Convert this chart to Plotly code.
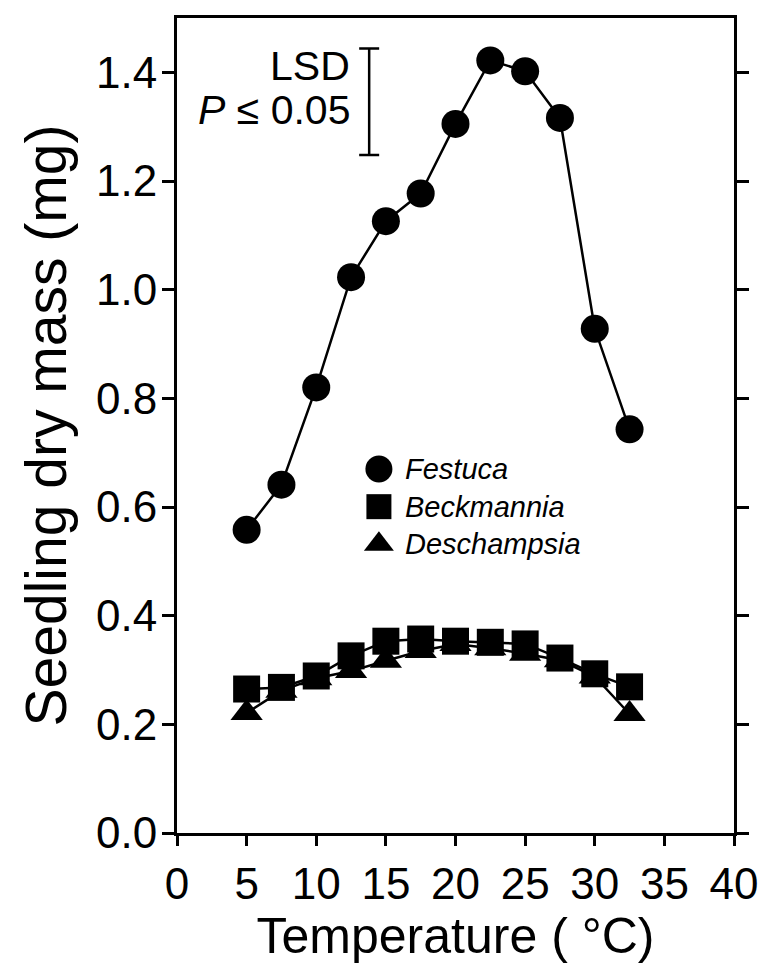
import plotly.graph_objects as go

# Growth temperatures (°C)
temperature = [5, 7.5, 10, 12.5, 15, 17.5, 20, 22.5, 25, 27.5, 30, 32.5]

# Seedling dry mass (mg) for each grass
festuca = [0.558, 0.641, 0.820, 1.023, 1.126, 1.177, 1.305, 1.422, 1.402, 1.316, 0.928, 0.743]
beckmannia = [0.265, 0.268, 0.289, 0.326, 0.353, 0.357, 0.353, 0.351, 0.348, 0.322, 0.293, 0.269]
deschampsia = [0.221, 0.262, 0.285, 0.298, 0.317, 0.335, 0.348, 0.340, 0.330, 0.318, 0.288, 0.219]

species = ["Festuca", "Beckmannia", "Deschampsia"]
symbols = ["circle", "square", "triangle-up"]

# least significant difference (P <= 0.05) drawn as a bar
lsd_value = 0.196
lsd_x = 13.8
lsd_center = 1.346

x_ticks = [0, 5, 10, 15, 20, 25, 30, 35, 40]
y_ticks = [0.0, 0.2, 0.4, 0.6, 0.8, 1.0, 1.2, 1.4]

legend_x = 14.5
legend_top = 0.670   # y of the first key row
KEY_FONT = 29
ROW_PX = KEY_FONT * 1.3   # plotly's line spacing for multi-line text

FONT = "Liberation Sans, Arial, Helvetica, sans-serif"

fig = go.Figure()

series = [deschampsia, beckmannia, festuca]
order_symbols = ["triangle-up", "square", "circle"]
sizes = [28, 27, 28]
for vals, sym, sz in zip(series, order_symbols, sizes):
    fig.add_trace(go.Scatter(
        x=temperature, y=vals, mode="lines+markers",
        line=dict(color="black", width=2.5),
        marker=dict(symbol=sym, size=sz, color="black"),
        showlegend=False, cliponaxis=False,
    ))

# key: symbols stacked at the text's line spacing, names as one text block
y_px_per_unit = (966 - 18 - 133) / 1.5
row_step = ROW_PX / y_px_per_unit
key_y = [legend_top - i * row_step for i in range(len(species))]
key_sizes = [27, 25, 26]
for sym, ly, ks in zip(symbols, key_y, key_sizes):
    fig.add_trace(go.Scatter(
        x=[legend_x], y=[ly], mode="markers",
        marker=dict(symbol=sym, size=ks, color="black"),
        showlegend=False,
    ))
fig.add_annotation(
    x=legend_x, y=key_y[1], xref="x", yref="y", xshift=24,
    text="<br>".join(f"<i>{n}</i>" for n in species),
    showarrow=False, xanchor="left", yanchor="middle", align="left",
    font=dict(family=FONT, size=KEY_FONT, color="black"),
)

# LSD bar
fig.add_trace(go.Scatter(
    x=[lsd_x], y=[lsd_center], mode="markers",
    marker=dict(size=1, color="rgba(0,0,0,0)"),
    error_y=dict(type="constant", value=lsd_value / 2, color="black", thickness=2.5, width=10),
    showlegend=False,
))
fig.add_annotation(
    x=lsd_x, y=lsd_center + lsd_value / 2, xref="x", yref="y", xshift=-17, yshift=-18,
    text="LSD", showarrow=False, xanchor="right", yanchor="middle",
    font=dict(family=FONT, size=41, color="black"),
)
fig.add_annotation(
    x=lsd_x, y=lsd_center - lsd_value / 2, xref="x", yref="y", xshift=-17, yshift=45,
    text="<i>P</i> ≤ 0.05", showarrow=False, xanchor="right", yanchor="middle",
    font=dict(family=FONT, size=41, color="black"),
)

fig.update_xaxes(
    range=[0, 40], tickvals=x_ticks, ticktext=[str(t) for t in x_ticks],
    ticks="outside", ticklen=10, tickwidth=2.5, tickcolor="black",
    showline=True, linewidth=3, linecolor="black", mirror=True,
    showgrid=False, zeroline=False,
    tickfont=dict(family=FONT, size=44, color="black"),
    title=dict(text="Temperature ( °C)", font=dict(family=FONT, size=50, color="black"), standoff=0),
)
fig.update_yaxes(
    range=[0, 1.5], tickvals=y_ticks, ticktext=[f"{t:.1f}" for t in y_ticks],
    ticks="outside", ticklen=12, tickwidth=2.5, tickcolor="black",
    showline=True, linewidth=3, linecolor="black", mirror="ticks",
    showgrid=False, zeroline=False, ticklabelstandoff=-4,
    tickfont=dict(family=FONT, size=44, color="black"),
    title=dict(text="Seedling dry mass (mg)", font=dict(family=FONT, size=57, color="black"), standoff=12),
)

fig.update_layout(
    width=770, height=966,
    margin=dict(l=177, r=28, t=18, b=133),
    paper_bgcolor="white", plot_bgcolor="white",
)

fig.write_html("out.html")
